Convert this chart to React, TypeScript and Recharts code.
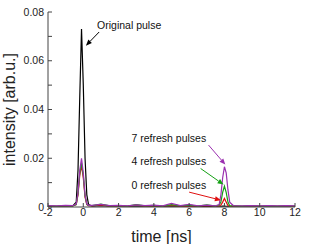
import { LineChart, Line, XAxis, YAxis, ReferenceLine, ReferenceDot } from 'recharts';

// time axis (ns), denser around the two pulses
const time = [
  -2, -1.5, -1, -0.6, -0.4, -0.3, -0.2, -0.1, 0, 0.1, 0.2, 0.3, 0.5, 1, 1.5, 2, 2.5, 3, 3.5, 4, 4.5, 5,
  5.5, 6, 6.5, 7, 7.5, 7.7, 7.8, 7.9, 8, 8.1, 8.2, 8.3, 8.5, 9, 9.5, 10, 10.5, 11, 11.5, 12,
];

const original = [
  0.0003, 0.0002, 0.0003, 0.0004, 0.002, 0.015, 0.045, 0.073, 0.05, 0.02, 0.005, 0.001, 0.0004, 0.0006, 0.0003,
  0.0004, 0.0002, 0.0005, 0.0003, 0.0004, 0.0002, 0.0004, 0.0003, 0.0003, 0.0002, 0.0003, 0.0002, 0.0003, 0.0003,
  0.0004, 0.0004, 0.0003, 0.0003, 0.0002, 0.0003, 0.0002, 0.0003, 0.0002, 0.0003, 0.0002, 0.0003, 0.0002,
];

const refresh0 = [
  0.0004, 0.0003, 0.0005, 0.0005, 0.001, 0.005, 0.013, 0.017, 0.012, 0.004, 0.001, 0.0006, 0.0005, 0.0009, 0.0004,
  0.0005, 0.0003, 0.0008, 0.0004, 0.0006, 0.0003, 0.0007, 0.0004, 0.0005, 0.0003, 0.0006, 0.0003, 0.0004, 0.0008,
  0.002, 0.0035, 0.002, 0.0006, 0.0003, 0.0004, 0.0003, 0.0004, 0.0003, 0.0004, 0.0003, 0.0004, 0.0003,
];

const refresh4 = [
  0.0005, 0.0004, 0.0006, 0.0005, 0.001, 0.0055, 0.014, 0.018, 0.013, 0.0045, 0.0012, 0.0006, 0.0006, 0.0012, 0.0005,
  0.0006, 0.0004, 0.001, 0.0005, 0.0007, 0.0004, 0.001, 0.0005, 0.0008, 0.0004, 0.0009, 0.0004, 0.0008, 0.002,
  0.006, 0.0085, 0.006, 0.002, 0.0005, 0.0005, 0.0004, 0.0006, 0.0004, 0.0005, 0.0004, 0.0005, 0.0004,
];

const refresh7 = [
  0.0006, 0.0005, 0.0007, 0.0006, 0.0012, 0.006, 0.015, 0.02, 0.014, 0.005, 0.0013, 0.0007, 0.0007, 0.0011, 0.0006,
  0.0007, 0.0005, 0.0009, 0.0006, 0.0008, 0.0005, 0.0015, 0.0006, 0.0011, 0.0005, 0.0008, 0.0005, 0.001, 0.005,
  0.012, 0.0165, 0.014, 0.007, 0.002, 0.0006, 0.0005, 0.0006, 0.0005, 0.0006, 0.0005, 0.0006, 0.0005,
];

const xTicks = [-2, 0, 2, 4, 6, 8, 10, 12];
const yTicks = [0, 0.01, 0.02, 0.03, 0.04, 0.05, 0.06, 0.07, 0.08];

// annotation texts and arrows, in data coordinates
const notes = [
  { text: 'Original pulse', x: 0.78, y: 0.0745, color: '#000000', from: [0.9, 0.0718], to: [0.15, 0.0662] },
  { text: '7 refresh pulses', x: 2.73, y: 0.0283, color: '#9b30b0', from: [7.1, 0.0254], to: [8.05, 0.0174] },
  { text: '4 refresh pulses', x: 2.73, y: 0.0189, color: '#14a014', from: [6.65, 0.0158], to: [7.95, 0.0092] },
  { text: '0 refresh pulses', x: 2.73, y: 0.0088, color: '#e01010', from: [6.0, 0.0061], to: [7.8, 0.0028] },
];

const data = time.map((t, i) => ({
  t,
  original: original[i],
  r0: refresh0[i],
  r4: refresh4[i],
  r7: refresh7[i],
}));

const font = 'Liberation Sans, Arial, sans-serif';

const Arrow = (p: any) => {
  const { x1, y1, x2, y2 } = p;
  const col = p.stroke;
  const a = Math.atan2(y2 - y1, x2 - x1);
  const L = 6;
  const w = 2.5;
  const bx = x2 - L * Math.cos(a);
  const by = y2 - L * Math.sin(a);
  const px = -Math.sin(a) * w;
  const py = Math.cos(a) * w;
  return (
    <g>
      <line x1={x1} y1={y1} x2={bx} y2={by} stroke={col} strokeWidth={1} />
      <polygon points={`${x2},${y2} ${bx + px},${by + py} ${bx - px},${by - py}`} fill={col} />
    </g>
  );
};

const yFmt = (v: number) => {
  const k = Math.round(v * 100);
  if (k % 2 !== 0) return '';
  return k === 0 ? '0' : v.toFixed(2);
};

export default function App() {
  return (
    <div style={{ position: 'absolute', left: 0, top: 0, width: 310, height: 244, background: '#fff' }}>
      <LineChart width={310} height={244} data={data} margin={{ top: 12, right: 15, left: 0, bottom: 0 }}>
        <XAxis
          dataKey="t"
          type="number"
          domain={[-2, 12]}
          ticks={xTicks}
          allowDataOverflow
          height={37}
          stroke="#444"
          tickSize={-4}
          tickMargin={6}
          tick={{ fill: '#222', fontSize: 10.5, fontFamily: font }}
          label={{ value: 'time [ns]', position: 'insideBottom', offset: 2, dx: -10, fill: '#222', fontSize: 16, fontFamily: font }}
        />
        <XAxis
          xAxisId="top"
          orientation="top"
          dataKey="t"
          type="number"
          domain={[-2, 12]}
          ticks={xTicks}
          height={0}
          stroke="#444"
          tickSize={-4}
          tickFormatter={() => ''}
        />
        <YAxis
          type="number"
          domain={[0, 0.08]}
          ticks={yTicks}
          width={48}
          stroke="#444"
          tickSize={-4}
          tickMargin={8}
          tickFormatter={yFmt}
          tick={{ fill: '#222', fontSize: 10.5, fontFamily: font }}
          label={{ value: 'intensity [arb.u.]', angle: -90, position: 'insideLeft', dx: 4, dy: 0, fill: '#222', fontSize: 16, fontFamily: font, style: { textAnchor: 'middle' } }}
        />
        <YAxis
          yAxisId="right"
          orientation="right"
          type="number"
          domain={[0, 0.08]}
          ticks={yTicks}
          width={0}
          stroke="#444"
          tickSize={-4}
          tickFormatter={() => ''}
        />
        <Line dataKey="original" stroke="#000000" strokeWidth={1.2} dot={false} isAnimationActive={false} />
        <Line dataKey="r0" stroke="#e01010" strokeWidth={1.2} dot={false} isAnimationActive={false} />
        <Line dataKey="r4" stroke="#14a014" strokeWidth={1.2} dot={false} isAnimationActive={false} />
        <Line dataKey="r7" stroke="#9b30b0" strokeWidth={1.2} dot={false} isAnimationActive={false} />
        {notes.map((n) => (
          <ReferenceLine
            key={n.text + 'a'}
            segment={[
              { x: n.from[0], y: n.from[1] },
              { x: n.to[0], y: n.to[1] },
            ]}
            stroke={n.color}
            ifOverflow="visible"
            shape={Arrow}
          />
        ))}
        {notes.map((n) => (
          <ReferenceDot
            key={n.text}
            x={n.x}
            y={n.y}
            r={0}
            fill="none"
            stroke="none"
            ifOverflow="visible"
            label={{ value: n.text, position: 'right', offset: 0, fill: '#111', fontSize: 10.5, fontFamily: font }}
          />
        ))}
      </LineChart>
    </div>
  );
}
